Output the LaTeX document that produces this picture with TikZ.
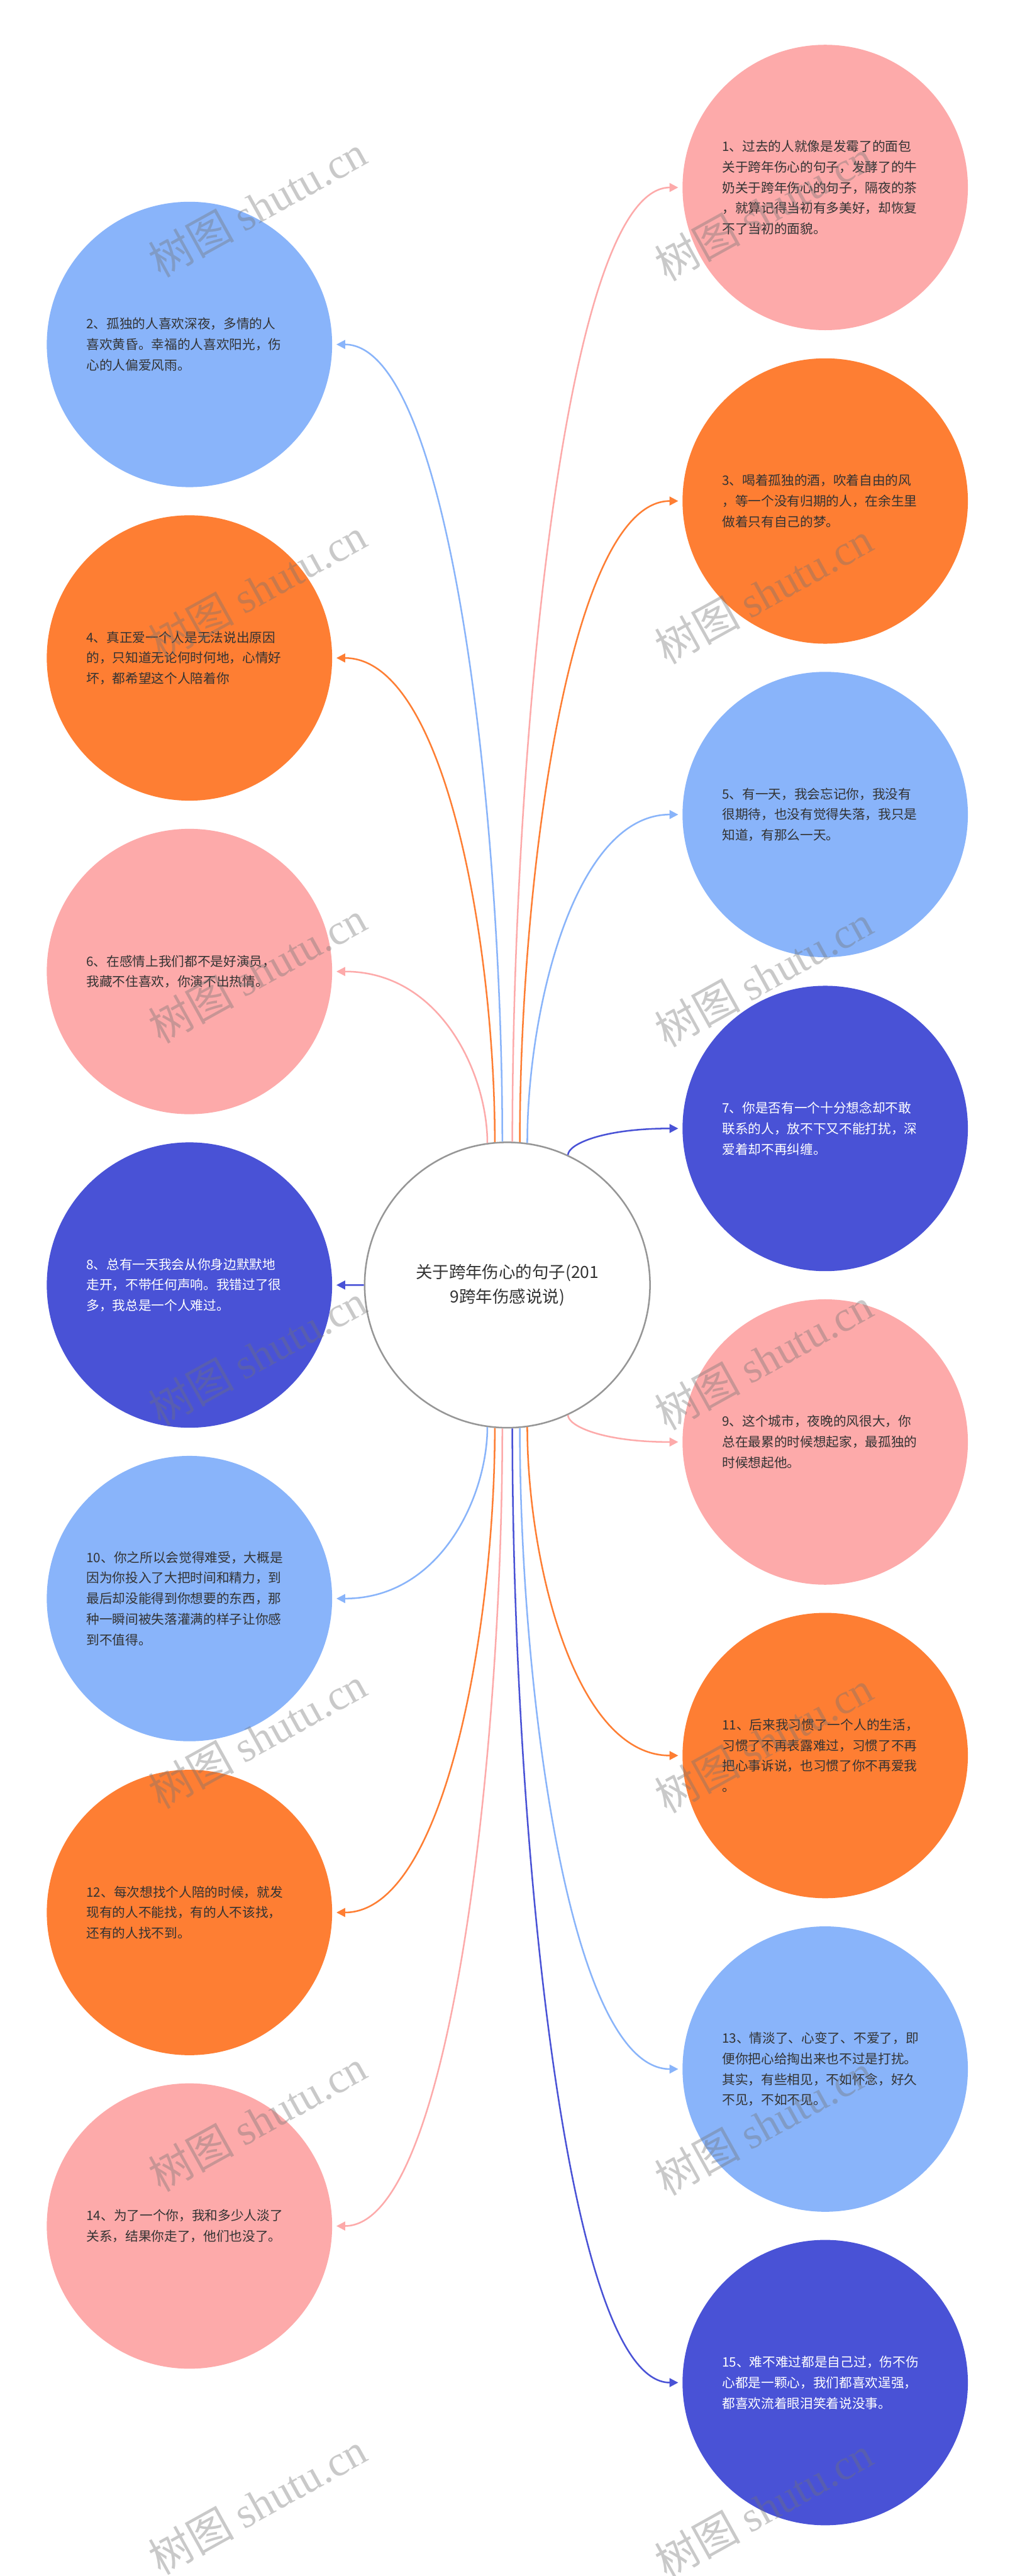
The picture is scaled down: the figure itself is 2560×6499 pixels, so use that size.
\documentclass[tikz,border=0pt]{standalone}
\usepackage{fontspec}
\setmainfont{Noto Sans CJK SC}
\newfontfamily\cjkfont{Noto Sans CJK SC}
\newfontfamily\wmfont{Liberation Serif}
\usetikzlibrary{arrows.meta,calc}
\definecolor{cpink}{RGB}{253,170,170}
\definecolor{cblue}{RGB}{137,180,250}
\definecolor{corange}{RGB}{254,126,51}
\definecolor{cindigo}{RGB}{73,82,214}
\definecolor{ctext}{RGB}{51,51,51}
\definecolor{hubline}{RGB}{150,150,150}
\newcommand\myconn[3]{%
  \draw[conn,#3] (#1) .. controls ($(#1)!0.4!(#1|-#2)$) and ($(#1|-#2)!0.3!(#2)$) .. (#2);}
\begin{document}
\begin{tikzpicture}[x=0.25pt,y=-0.25pt,
  bubble/.style={circle, minimum size=180pt, inner sep=0pt, align=left, text width=130pt,
    font=\fontsize{8.2pt}{13pt}\selectfont, text=ctext},
  pinkb/.style={bubble, fill=cpink},
  blueb/.style={bubble, fill=cblue},
  orangeb/.style={bubble, fill=corange},
  indigob/.style={bubble, fill=cindigo, text=white},
  hub/.style={circle, minimum size=180pt, inner sep=0pt, draw=hubline, line width=1pt, fill=white,
    align=center, text=ctext, font=\fontsize{10.5pt}{15.5pt}\selectfont},
  conn/.style={line width=1pt, -{Triangle[length=5.5pt,width=5.5pt]}, shorten >=2.5pt},
  wm/.style={rotate=29, opacity=0.38, text=black!55, inner sep=0pt, font=\fontsize{27pt}{27pt}\selectfont}]
\path[use as bounding box, fill=white] (0,0) rectangle (2560,6499);

\node[hub] (c) at (1280,3242) {关于跨年伤心的句子(201\\9跨年伤感说说)};

\node[pinkb] (n1) at (2082,473) {1、过去的人就像是发霉了的面包\\关于跨年伤心的句子，发酵了的牛\\奶关于跨年伤心的句子，隔夜的茶\\，就算记得当初有多美好，却恢复\\不了当初的面貌。};
\node[blueb] (n2) at (478,869) {2、孤独的人喜欢深夜，多情的人\\喜欢黄昏。幸福的人喜欢阳光，伤\\心的人偏爱风雨。};
\node[orangeb] (n3) at (2082,1264) {3、喝着孤独的酒，吹着自由的风\\，等一个没有归期的人，在余生里\\做着只有自己的梦。};
\node[orangeb] (n4) at (478,1660) {4、真正爱一个人是无法说出原因\\的，只知道无论何时何地，心情好\\坏，都希望这个人陪着你};
\node[blueb] (n5) at (2082,2055) {5、有一天，我会忘记你，我没有\\很期待，也没有觉得失落，我只是\\知道，有那么一天。};
\node[pinkb] (n6) at (478,2451) {6、在感情上我们都不是好演员，\\我藏不住喜欢，你演不出热情。};
\node[indigob] (n7) at (2082,2847) {7、你是否有一个十分想念却不敢\\联系的人，放不下又不能打扰，深\\爱着却不再纠缠。};
\node[indigob] (n8) at (478,3242) {8、总有一天我会从你身边默默地\\走开，不带任何声响。我错过了很\\多，我总是一个人难过。};
\node[pinkb] (n9) at (2082,3638) {9、这个城市，夜晚的风很大，你\\总在最累的时候想起家，最孤独的\\时候想起他。};
\node[blueb] (n10) at (478,4033) {10、你之所以会觉得难受，大概是\\因为你投入了大把时间和精力，到\\最后却没能得到你想要的东西，那\\种一瞬间被失落灌满的样子让你感\\到不值得。};
\node[orangeb] (n11) at (2082,4429) {11、后来我习惯了一个人的生活，\\习惯了不再表露难过，习惯了不再\\把心事诉说，也习惯了你不再爱我\\。};
\node[orangeb] (n12) at (478,4825) {12、每次想找个人陪的时候，就发\\现有的人不能找，有的人不该找，\\还有的人找不到。};
\node[blueb] (n13) at (2082,5220) {13、情淡了、心变了、不爱了，即\\便你把心给掏出来也不过是打扰。\\其实，有些相见，不如怀念，好久\\不见，不如不见。};
\node[pinkb] (n14) at (478,5616) {14、为了一个你，我和多少人淡了\\关系，结果你走了，他们也没了。};
\node[indigob] (n15) at (2082,6011) {15、难不难过都是自己过，伤不伤\\心都是一颗心，我们都喜欢逞强，\\都喜欢流着眼泪笑着说没事。};

\myconn{c.88}{n1.west}{cpink}
\myconn{c.85}{n3.west}{corange}
\myconn{c.82}{n5.west}{cblue}
\myconn{c.65}{n7.west}{cindigo}
\myconn{c.-65}{n9.west}{cpink}
\myconn{c.-82}{n11.west}{corange}
\myconn{c.-85}{n13.west}{cblue}
\myconn{c.-88}{n15.west}{cindigo}
\myconn{c.92}{n2.east}{cblue}
\myconn{c.95}{n4.east}{corange}
\myconn{c.98}{n6.east}{cpink}
\myconn{c.west}{n8.east}{cindigo}
\myconn{c.-98}{n10.east}{cblue}
\myconn{c.-95}{n12.east}{corange}
\myconn{c.-92}{n14.east}{cpink}

\foreach \i/\yy in {1/520,2/1486,3/2452,4/3418,5/4384,6/5350,7/6316}{
  \node[wm] (wl\i) at (650,\yy) {{\cjkfont 树图} {\wmfont shutu.cn}};
  \node[wm] (wr\i) at (1927,\yy+10) {{\cjkfont 树图} {\wmfont shutu.cn}};
}
\end{tikzpicture}
\end{document}
